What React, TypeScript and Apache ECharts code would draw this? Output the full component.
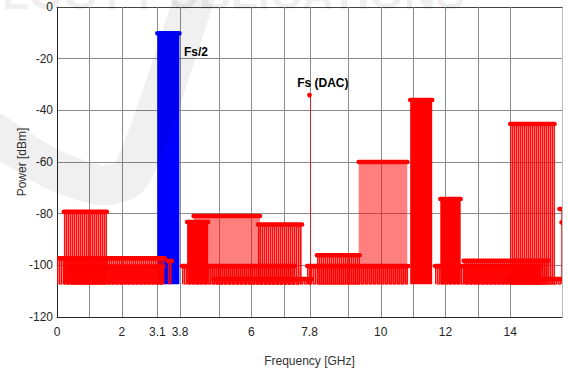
import React, { useEffect, useRef } from "react";
import * as echarts from "echarts";

const X_MIN = 0;
const X_MAX = 15.6;
const Y_MIN = -120;
const Y_MAX = 0;
const Y_STEP = 20;
const STEM_BASE = -107.3;

const xTickLabels = [0, 2, 3.1, 3.8, 6, 7.8, 10, 12, 14];
const xGridLines = [1, 2, 3.1, 3.8, 5, 6, 7, 7.8, 9, 10, 11, 12, 13, 14];

// Blue stem group (Fs/2 band)
const blueStart = [3.1];
const blueEnd = [3.78];
const bluePower = [-10.2];

// Red stem groups (GHz range, top power dBm), in drawing order
const redStart = [4.22, 9.32, 0.21, 6.21, 8.03, 14.0, 4.02, 10.91, 11.84, 0.0, 3.42, 0.41, 3.86, 4.84, 7.73, 12.56, 11.68, 13.93, 15.52, 15.59, 7.8];
const redEnd = [6.27, 10.82, 1.54, 7.57, 9.35, 15.37, 4.67, 11.59, 12.47, 3.33, 3.55, 3.28, 7.35, 7.86, 10.85, 15.17, 14.96, 15.56, 15.58, 15.59, 7.8];
const redPower = [-80.9, -60.0, -79.3, -84.2, -96.1, -45.3, -83.2, -36.0, -74.3, -97.3, -98.3, -100.5, -100.3, -105.3, -100.3, -98.2, -100.3, -105.3, -78.2, -83.4, -34.1];
const redKind = ["light", "light", "sparse", "sparse", "sparse", "sparse", "dense", "dense", "dense", "sparse", "sparse", "sparse", "sparse", "sparse", "sparse", "sparse", "sparse", "sparse", "thin", "thin", "thin"];

// Annotations
const annoText = ["Fs/2", "Fs (DAC)"];
const annoFreq = [3.92, 7.42];
const annoPower = [-17.3, -29.3];

const FONT = "'Liberation Sans Narrow', 'Liberation Sans', Arial, sans-serif";

function stripePoints(x0: number, x1: number, yTop: number, yBase: number, step: number) {
  const pts: number[][] = [];
  let up = true;
  for (let x = Math.round(x0) + 0.5; x <= x1 + 0.01; x += step) {
    if (up) {
      pts.push([x, yBase], [x, yTop]);
    } else {
      pts.push([x, yTop], [x, yBase]);
    }
    up = !up;
  }
  return pts;
}

function makeRender(color: string, kinds: string[]) {
  return (params: any, api: any) => {
    const i = params.dataIndex;
    const s = api.value(0);
    const e = api.value(1);
    const p = api.value(2);
    const kind = kinds[i];
    const [x0, yTop] = api.coord([s, p]);
    const [x1, yBase] = api.coord([e, STEM_BASE]);
    const children: any[] = [];
    if (kind === "thin") {
      const sx = Math.round(x1) + 0.5;
      children.push({
        type: "line",
        shape: { x1: sx, y1: yTop, x2: sx, y2: yBase },
        style: { stroke: "rgba(255,0,0,0.75)", lineWidth: 1 },
      });
      if (x1 - x0 > 0.5) {
        children.push({
          type: "line",
          shape: { x1: x0, y1: yTop, x2: x1, y2: yTop },
          style: { stroke: color, lineWidth: 4.6, lineCap: "round" },
        });
      } else {
        children.push({
          type: "circle",
          shape: { cx: x0, cy: yTop, r: 2.4 },
          style: { fill: color },
        });
      }
      return { type: "group", children };
    }
    if (kind === "light") {
      children.push({
        type: "rect",
        shape: { x: x0, y: yTop, width: x1 - x0, height: yBase - yTop },
        style: { fill: "rgba(255,0,0,0.5)" },
      });
    } else if (kind === "dense") {
      children.push({
        type: "rect",
        shape: { x: x0, y: yTop, width: x1 - x0, height: yBase - yTop },
        style: { fill: color },
      });
    } else {
      children.push({
        type: "rect",
        shape: { x: x0, y: yTop, width: x1 - x0, height: yBase - yTop },
        style: { fill: "rgba(255,0,0,0.55)" },
      });
      children.push({
        type: "polyline",
        shape: { points: stripePoints(x0, x1, yTop, yBase, 2) },
        style: { stroke: "rgba(255,0,0,0.9)", lineWidth: 1, fill: null },
      });
    }
    children.push({
      type: "line",
      shape: { x1: x0, y1: yTop, x2: x1, y2: yTop },
      style: { stroke: color, lineWidth: 4.6, lineCap: "round" },
    });
    return { type: "group", children };
  };
}

export default function App() {
  const ref = useRef<HTMLDivElement>(null);

  useEffect(() => {
    if (!ref.current) return;
    const chart = echarts.init(ref.current, undefined, { renderer: "svg" });

    const blueData = blueStart.map((s, i) => [s, blueEnd[i], bluePower[i]]);
    const redData = redStart.map((s, i) => [s, redEnd[i], redPower[i]]);
    const gridData = xGridLines.map((f) => [f]);
    const annoData = annoFreq.map((f, i) => [f, annoPower[i]]);

    const option: any = {
      animation: false,
      backgroundColor: "#ffffff",
      grid: { left: 57, right: 6, top: 7, bottom: 54, containLabel: false, outerBoundsMode: "none" },
      xAxis: [
        {
          type: "value",
          min: X_MIN,
          max: X_MAX,
          position: "bottom",
          axisLine: { show: true, onZero: false, lineStyle: { color: "#262626", width: 1 } },
          axisTick: { show: false },
          splitLine: { show: false },
          axisLabel: {
            customValues: xTickLabels,
            color: "#262626",
            fontSize: 12,
            fontFamily: FONT,
            margin: 9,
            formatter: (v: number) => String(v),
          },
          name: "Frequency [GHz]",
          nameLocation: "middle",
          nameGap: 38,
          nameMoveOverlap: false,
          nameTextStyle: { color: "#333333", fontSize: 12, fontFamily: FONT },
        },
        {
          type: "value",
          min: X_MIN,
          max: X_MAX,
          position: "top",
          axisLine: { show: true, onZero: false, lineStyle: { color: "#444444", width: 1 } },
          axisTick: { show: false },
          axisLabel: { show: false },
          splitLine: { show: false },
        },
      ],
      yAxis: [
        {
          type: "value",
          min: Y_MIN,
          max: Y_MAX,
          interval: Y_STEP,
          position: "left",
          axisLine: { show: true, onZero: false, lineStyle: { color: "#262626", width: 1 } },
          axisTick: { show: false },
          splitLine: { show: true, lineStyle: { color: "#8c8c8c", width: 1 } },
          axisLabel: { color: "#262626", fontSize: 12, fontFamily: FONT, margin: 4 },
          name: "Power [dBm]",
          nameLocation: "middle",
          nameGap: 29,
          nameMoveOverlap: false,
          nameTextStyle: { color: "#333333", fontSize: 12, fontFamily: FONT },
        },
        {
          type: "value",
          min: Y_MIN,
          max: Y_MAX,
          interval: Y_STEP,
          position: "right",
          axisLine: { show: true, onZero: false, lineStyle: { color: "#bbbbbb", width: 1 } },
          axisTick: { show: false },
          axisLabel: { show: false },
          splitLine: { show: false },
        },
      ],
      series: [
        {
          type: "custom",
          name: "grid",
          silent: true,
          z: 1,
          data: gridData,
          encode: { x: 0 },
          renderItem: (params: any, api: any) => {
            const f = api.value(0);
            const [x, yT] = api.coord([f, Y_MAX]);
            const [, yB] = api.coord([f, Y_MIN]);
            const xx = Math.round(x) + 0.5;
            return {
              type: "line",
              shape: { x1: xx, y1: yT, x2: xx, y2: yB },
              style: { stroke: "#8c8c8c", lineWidth: 1 },
            };
          },
        },
        {
          type: "custom",
          name: "blue",
          z: 2,
          clip: true,
          data: blueData,
          encode: { x: [0, 1], y: 2 },
          renderItem: makeRender("#0000ff", blueStart.map(() => "dense")),
        },
        {
          type: "custom",
          name: "red",
          z: 3,
          clip: true,
          data: redData,
          encode: { x: [0, 1], y: 2 },
          renderItem: makeRender("#ff0000", redKind),
        },
        {
          type: "custom",
          name: "labels",
          z: 4,
          data: annoData,
          encode: { x: 0, y: 1 },
          renderItem: (params: any, api: any) => {
            const i = params.dataIndex;
            const [x, y] = api.coord([api.value(0), api.value(1)]);
            return {
              type: "text",
              x,
              y,
              style: {
                text: annoText[i],
                font: `bold 12px ${FONT}`,
                fill: "#000000",
                align: "left",
                verticalAlign: "middle",
              },
            };
          },
        },
      ],
      graphic: [
        {
          type: "polyline",
          silent: true,
          z: 100,
          shape: {
            points: [[-10, 130], [50, 168], [100, 185], [128, 178], [150, 130], [192, 5], [200, -20]],
            smooth: 0.25,
          },
          style: { stroke: "rgba(0,0,0,0.06)", lineWidth: 40, fill: null, lineJoin: "round" },
        },
        {
          type: "text",
          silent: true,
          z: 100,
          x: 2,
          y: -7,
          style: {
            text: "LOGY PUBLICATIONS",
            font: "bold 44px 'Liberation Sans', Arial, sans-serif",
            fill: "rgba(0,0,0,0.08)",
            verticalAlign: "middle",
          },
        },
      ],
    };

    chart.setOption(option);
    return () => {
      chart.dispose();
    };
  }, []);

  return (
    <div
      ref={ref}
      style={{ position: "absolute", left: 0, top: 0, width: 568, height: 371 }}
    />
  );
}
